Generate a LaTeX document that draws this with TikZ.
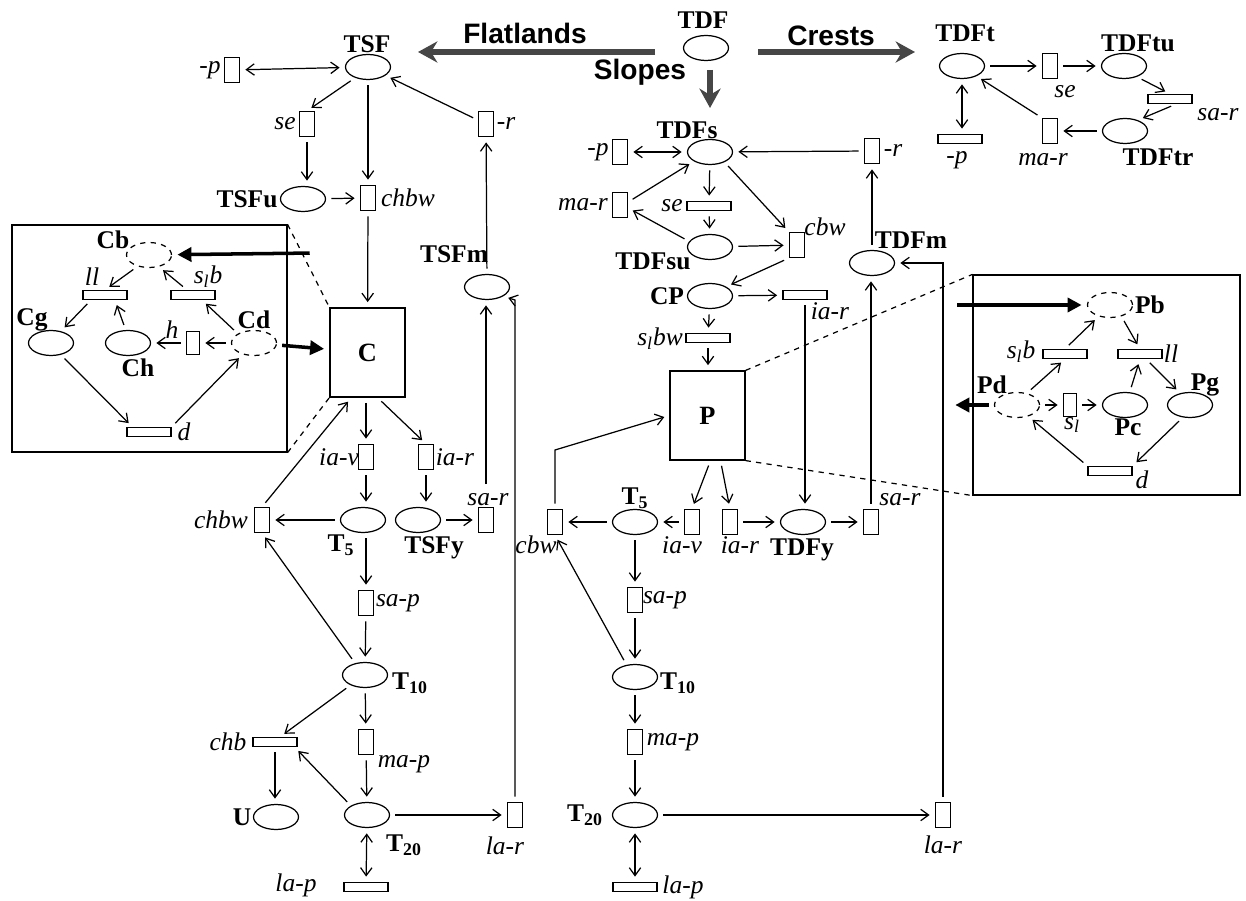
\documentclass[tikz,border=0pt]{standalone}
\usepackage{fontspec}
\setmainfont{Liberation Serif}
\setsansfont{Liberation Sans}
\usetikzlibrary{positioning, calc, shapes.geometric, arrows.meta}

\begin{document}
\begin{tikzpicture}[
    x=0.02cm, y=-0.02cm,
    place/.style={draw, ellipse, line width=0.7pt, minimum width=0.9cm, minimum height=0.5cm, inner sep=0pt},
    dplace/.style={place, dashed},
    vtr/.style={draw, rectangle, line width=0.7pt, minimum width=0.3cm, minimum height=0.5cm, inner sep=0pt},
    htr/.style={draw, rectangle, line width=0.7pt, minimum width=0.88cm, minimum height=0.18cm, inner sep=0pt},
    bigbox/.style={draw, rectangle, line width=0.7pt, minimum width=1.5cm, minimum height=1.78cm, font=\fontsize{15}{17}\selectfont\bfseries},
    inset/.style={draw, rectangle, line width=0.7pt, inner sep=0pt},
    nm/.style={inner sep=0pt, font=\fontsize{14.5}{16}\selectfont\bfseries},
    lbl/.style={inner sep=0pt, font=\fontsize{14.5}{16}\selectfont\itshape},
    dir/.style={inner sep=0pt, font=\fontsize{16}{18}\selectfont\sffamily\bfseries},
    arr/.style={line width=0.7pt, -{Straight Barb[length=4.5pt,width=6.5pt]}, shorten >=3pt, shorten <=3pt},
    darr/.style={arr, {Straight Barb[length=4.5pt,width=6.5pt]}-{Straight Barb[length=4.5pt,width=6.5pt]}},
    fatarr/.style={line width=2pt, -{Triangle[length=8pt,width=8pt]}, shorten >=3pt, shorten <=3pt},
    grayarr/.style={line width=3pt, gray!55!black, -{Stealth[length=11pt,width=12pt]}},
    zoomline/.style={dashed, line width=0.7pt}
  ]
  \useasboundingbox (0,0) rectangle (1246,901);

  % zoom frames
  \node[inset, minimum width=5.5cm, minimum height=4.54cm] (insetC) at (149.5,338.5) {};
  \node[inset, minimum width=5.34cm, minimum height=4.4cm] (insetP) at (1106.5,385) {};

  % top: TDF and the three directions
  \node[place] (tdf) at (706,48) {};
  \node[nm] (tdf-l) at (703,20) {TDF};
  \node[dir] (flat-l) at (525,33) {Flatlands};
  \node[dir] (crest-l) at (831,36) {Crests};
  \node[dir] (slope-l) at (640,72) {Slopes};
  \coordinate (flatout) at (655,52);
  \coordinate (flatin) at (418,52);
  \coordinate (crestout) at (758,52);
  \coordinate (crestin) at (915,52);
  \coordinate (slopeout) at (710,70);
  \coordinate (slopein) at (710,108);
  \draw[grayarr] (flatout) -- (flatin);
  \draw[grayarr] (crestout) -- (crestin);
  \draw[grayarr] (slopeout) -- (slopein);

  % flatlands
  \node[place] (tsf) at (368,67) {};
  \node[nm] (tsf-l) at (367,44) {TSF};
  \node[vtr] (pm1) at (232,70) {};
  \node[lbl] (pm1-l) at (210,70) {-p};
  \node[vtr] (se1) at (307,124) {};
  \node[lbl] (se1-l) at (285,124) {se};
  \node[place] (tsfu) at (303,199) {};
  \node[nm] (tsfu-l) at (247,199) {TSFu};
  \node[vtr] (chbw1) at (368,198) {};
  \node[lbl] (chbw1-l) at (408,198) {chbw};
  \node[vtr] (rr1) at (486,124) {};
  \node[lbl] (rr1-l) at (506,124) {-r};
  \node[place] (tsfm) at (487,287) {};
  \node[nm] (tsfm-l) at (454,254) {TSFm};
  \node[bigbox] (C) at (367.5,352.5) {C};
  \node[vtr] (iav1) at (366,457) {};
  \node[lbl] (iav1-l) at (339,457) {ia-v};
  \node[vtr] (iar1) at (426,457) {};
  \node[lbl] (iar1-l) at (455,457) {ia-r};
  \node[place] (t5a) at (363,520) {};
  \node[nm] (t5a-l) at (341,545) {T\textsubscript{5}};
  \node[place] (tsfy) at (418,520) {};
  \node[nm] (tsfy-l) at (434,548) {TSFy};
  \node[vtr] (sar1) at (486,520) {};
  \node[lbl] (sar1-l) at (488,500) {sa-r};
  \node[vtr] (chbw2) at (262,520) {};
  \node[lbl] (chbw2-l) at (221,520) {chbw};
  \node[vtr] (sap1) at (366,603) {};
  \node[lbl] (sap1-l) at (398,603) {sa-p};
  \node[place] (t10a) at (365,675) {};
  \node[nm] (t10a-l) at (410,683) {T\textsubscript{10}};
  \node[htr] (chb) at (275,742) {};
  \node[lbl] (chb-l) at (228,742) {chb};
  \node[vtr] (map1) at (366,742) {};
  \node[lbl] (map1-l) at (404,764) {ma-p};
  \node[place] (t20a) at (367,815) {};
  \node[nm] (t20a-l) at (404,845) {T\textsubscript{20}};
  \node[place] (u) at (276,817) {};
  \node[nm] (u-l) at (242,817) {U};
  \node[vtr] (lar1) at (515,815) {};
  \node[lbl] (lar1-l) at (505,846) {la-r};
  \node[htr] (lap1) at (366,887) {};
  \node[lbl] (lap1-l) at (296,885) {la-p};
  \coordinate (larbend) at (515,300);

  \draw[darr] (pm1) -- (tsf);
  \draw[arr] (tsf.-140) -- (se1.north);
  \draw[arr] (se1) -- (se1 |- tsfu.north);
  \draw[arr] (tsf) -- (chbw1);
  \draw[arr] (tsfu) -- (chbw1);
  \draw[arr] (rr1) -- (tsf);
  \draw[arr] (chbw1) -- (C);
  \draw[arr] (tsfm) -- (rr1);
  \draw[arr] (C.south -| iav1) -- (iav1);
  \draw[arr] ($(C.south)+(10,0)$) -- (iar1.north);
  \draw[arr] (iav1) -- (iav1 |- t5a.north);
  \draw[arr] (iar1) -- (iar1 |- tsfy.north);
  \draw[arr] (tsfy) -- (sar1);
  \draw[arr, shorten <=13pt] (sar1.north) -- (sar1 |- tsfm.south);
  \draw[arr] (t5a) -- (chbw2);
  \draw[arr] (chbw2.north) -- ($(C.south west)+(22,0)$);
  \draw[arr] (t5a.south -| sap1) -- (sap1);
  \draw[arr] (sap1) -- (t10a);
  \draw[arr] (t10a.130) -- (chbw2.south);
  \draw[arr] (t10a.-145) -- ($(chb.north)+(5,0)$);
  \draw[arr] (t10a) -- (map1);
  \draw[arr] (map1) -- (t20a);
  \draw[arr] (chb) -- (chb |- u.north);
  \draw[arr] (t20a.150) -- ($(chb.south east)+(-3,0)$);
  \draw[arr] (t20a) -- (lar1);
  \draw[darr] (t20a) -- (lap1);
  \draw[arr] (lar1.north) -- (larbend) -- (tsfm.-30);

  % zoom on C
  \node[dplace] (cb) at (149,255) {};
  \node[nm] (cb-l) at (113,240) {Cb};
  \node[htr] (ll1) at (105,295) {};
  \node[lbl] (ll1-l) at (92,277) {ll};
  \node[htr] (slb1) at (193,295) {};
  \node[lbl] (slb1-l) at (208,277) {s\textsubscript{l}b};
  \node[place] (cg) at (51,343) {};
  \node[nm] (cg-l) at (32,320) {Cg};
  \node[place] (ch) at (128,343) {};
  \node[nm] (ch-l) at (138,368) {Ch};
  \node[vtr, minimum width=0.26cm, minimum height=0.46cm] (h) at (193,343) {};
  \node[lbl] (h-l) at (172,330) {h};
  \node[dplace] (cd) at (254,343) {};
  \node[nm] (cd-l) at (254,320) {Cd};
  \node[htr] (d1) at (149,432) {};
  \node[lbl] (d1-l) at (184,432) {d};
  \coordinate (cbfrom) at (315,253);

  \draw[arr] (cb.-135) -- (ll1.north);
  \draw[arr] ($(slb1.north)+(-6,0)$) -- (cb.-50);
  \draw[arr] ($(ll1.south)+(-14,0)$) -- (cg.50);
  \draw[arr] (ch.100) -- ($(ll1.south)+(10,0)$);
  \draw[arr] (cd) -- (h);
  \draw[arr] (h) -- (ch);
  \draw[arr] (cd.150) -- ($(slb1.south)+(9,0)$);
  \draw[arr] (cg.-50) -- ($(d1.north west)+(6,0)$);
  \draw[arr] (d1.north east) -- (cd.-135);
  \draw[fatarr] (cbfrom) -- (cb);
  \draw[fatarr] (cd) -- (C);
  \draw[zoomline] (insetC.north east) -- (C.north west);
  \draw[zoomline] (insetC.south east) -- (C.south west);

  % slopes
  \node[place] (tdfs) at (710,152) {};
  \node[nm] (tdfs-l) at (687,130) {TDFs};
  \node[vtr] (pm2) at (620,152) {};
  \node[lbl] (pm2-l) at (598,152) {-p};
  \node[vtr] (rr2) at (872,151) {};
  \node[lbl] (rr2-l) at (893,151) {-r};
  \node[vtr] (mar2) at (620,205) {};
  \node[lbl] (mar2-l) at (583,205) {ma-r};
  \node[htr] (se2) at (709,206) {};
  \node[lbl] (se2-l) at (672,206) {se};
  \node[place] (tdfsu) at (710,247) {};
  \node[nm] (tdfsu-l) at (653,261) {TDFsu};
  \node[vtr] (cbw1) at (797,245) {};
  \node[lbl] (cbw1-l) at (825,227) {cbw};
  \node[place] (cp) at (710,296) {};
  \node[nm] (cp-l) at (667,296) {CP};
  \node[htr] (iar3) at (805,295) {};
  \node[lbl] (iar3-l) at (830,311) {ia-r};
  \node[htr] (slbw) at (708,338) {};
  \node[lbl] (slbw-l) at (660,339) {s\textsubscript{l}bw};
  \node[place] (tdfm) at (872,263) {};
  \node[nm] (tdfm-l) at (911,240) {TDFm};
  \node[bigbox] (P) at (707.5,415.5) {P};
  \node[place] (t5b) at (635,522) {};
  \node[nm] (t5b-l) at (635,498) {T\textsubscript{5}};
  \node[vtr] (iav2) at (692,522) {};
  \node[lbl] (iav2-l) at (682,545) {ia-v};
  \node[vtr] (iar2) at (730,522) {};
  \node[lbl] (iar2-l) at (740,545) {ia-r};
  \node[place] (tdfy) at (803,522) {};
  \node[nm] (tdfy-l) at (802,550) {TDFy};
  \node[vtr] (sar2) at (871,522) {};
  \node[lbl] (sar2-l) at (900,500) {sa-r};
  \node[vtr] (cbw2) at (555,522) {};
  \node[lbl] (cbw2-l) at (536,545) {cbw};
  \node[vtr] (sap2) at (635,600) {};
  \node[lbl] (sap2-l) at (665,600) {sa-p};
  \node[place] (t10b) at (635,677) {};
  \node[nm] (t10b-l) at (678,683) {T\textsubscript{10}};
  \node[vtr] (map2) at (635,742) {};
  \node[lbl] (map2-l) at (673,742) {ma-p};
  \node[place] (t20b) at (635,815) {};
  \node[nm] (t20b-l) at (585,815) {T\textsubscript{20}};
  \node[vtr] (lar2) at (943,815) {};
  \node[lbl] (lar2-l) at (943,845) {la-r};
  \node[htr] (lap2) at (635,887) {};
  \node[lbl] (lap2-l) at (683,887) {la-p};
  \coordinate (cbwbend) at (555,450);

  \draw[darr] (pm2) -- (tdfs);
  \draw[arr] (rr2) -- (tdfs);
  \draw[arr] (mar2.20) -- (tdfs.-150);
  \draw[arr] (tdfsu.165) -- (mar2.-20);
  \draw[arr] (tdfs) -- (se2);
  \draw[arr] (se2) -- (tdfsu);
  \draw[arr] (tdfs.-35) -- (cbw1.north west);
  \draw[arr] (tdfsu) -- (cbw1);
  \draw[arr] (cbw1.south west) -- (cp.30);
  \draw[arr] (cp) -- (iar3);
  \draw[arr] (cp) -- (slbw);
  \draw[arr] (slbw) -- (slbw |- P.north);
  \draw[arr] (iar3) -- (iar3 |- tdfy.north);
  \draw[arr] (tdfm) -- (tdfm |- rr2.south);
  \draw[arr] (sar2) -- (sar2 |- tdfm.south);
  \draw[arr] (lar2.north) |- (tdfm.east);
  \draw[arr] ($(P.south)+(3,0)$) -- (iav2.north);
  \draw[arr] ($(P.south)+(13,0)$) -- (iar2.north);
  \draw[arr] (iav2) -- (t5b);
  \draw[arr] (iar2) -- (tdfy);
  \draw[arr] (tdfy) -- (sar2);
  \draw[arr] (t5b) -- (cbw2);
  \draw[arr] (cbw2.north) -- (cbwbend) -- (P.west);
  \draw[arr] (t5b) -- (sap2);
  \draw[arr] (sap2) -- (t10b);
  \draw[arr] (t10b.125) -- (cbw2.south);
  \draw[arr] (t10b) -- (map2);
  \draw[arr] (map2) -- (t20b);
  \draw[arr] (t20b) -- (lar2);
  \draw[darr] (t20b) -- (lap2);

  % crests
  \node[place] (tdft) at (962,66) {};
  \node[nm] (tdft-l) at (965,33) {TDFt};
  \node[vtr] (se3) at (1050,66) {};
  \node[lbl] (se3-l) at (1065,92) {se};
  \node[place] (tdftu) at (1124,66) {};
  \node[nm] (tdftu-l) at (1138,43) {TDFtu};
  \node[htr] (sar3) at (1170,99) {};
  \node[lbl] (sar3-l) at (1218,115) {sa-r};
  \node[place] (tdftr) at (1125,131) {};
  \node[nm] (tdftr-l) at (1158,157) {TDFtr};
  \node[vtr] (mar3) at (1050,131) {};
  \node[lbl] (mar3-l) at (1043,160) {ma-r};
  \node[htr] (pm3) at (960,139) {};
  \node[lbl] (pm3-l) at (957,160) {-p};

  \draw[arr] (tdft) -- (se3);
  \draw[arr] (se3) -- (tdftu);
  \draw[arr] (tdftu.-40) -- (sar3.north);
  \draw[arr] ($(sar3.south)+(6,0)$) -- (tdftr.40);
  \draw[arr] (tdftr) -- (mar3);
  \draw[arr] (mar3.north west) -- (tdft.-35);
  \draw[darr] (tdft) -- (tdft |- pm3.north);

  % zoom on P
  \node[dplace] (pb) at (1110,305) {};
  \node[nm] (pb-l) at (1150,305) {Pb};
  \node[htr] (slb2) at (1065,354) {};
  \node[lbl] (slb2-l) at (1021,352) {s\textsubscript{l}b};
  \node[htr] (ll2) at (1140,354) {};
  \node[lbl] (ll2-l) at (1171,354) {ll};
  \node[dplace] (pd) at (1017,405) {};
  \node[nm] (pd-l) at (992,385) {Pd};
  \node[vtr, minimum width=0.26cm, minimum height=0.46cm] (sl) at (1070,405) {};
  \node[lbl] (sl-l) at (1072,425) {s\textsubscript{l}};
  \node[place] (pc) at (1125,405) {};
  \node[nm] (pc-l) at (1128,427) {Pc};
  \node[place] (pg) at (1190,405) {};
  \node[nm] (pg-l) at (1205,385) {Pg};
  \node[htr] (d2) at (1110,471) {};
  \node[lbl] (d2-l) at (1142,480) {d};
  \coordinate (pbfrom) at (952,305);
  \coordinate (pdto) at (950,405);

  \draw[arr] (pd) -- (sl);
  \draw[arr] (sl) -- (pc);
  \draw[arr] (pd.50) -- (slb2.south);
  \draw[arr] (slb2.north) -- (pb.-135);
  \draw[arr] (pb.-45) -- (ll2.north);
  \draw[arr] (pc.70) -- (ll2.south);
  \draw[arr] (ll2.-40) -- (pg.130);
  \draw[arr] (pg.-120) -- (d2.north east);
  \draw[arr] (d2.north west) -- (pd.-45);
  \draw[fatarr] (pbfrom) -- (pb);
  \draw[fatarr] (pd) -- (pdto);
  \draw[zoomline] (P.north east) -- (insetP.north west);
  \draw[zoomline] (P.south east) -- (insetP.south west);
\end{tikzpicture}
\end{document}
